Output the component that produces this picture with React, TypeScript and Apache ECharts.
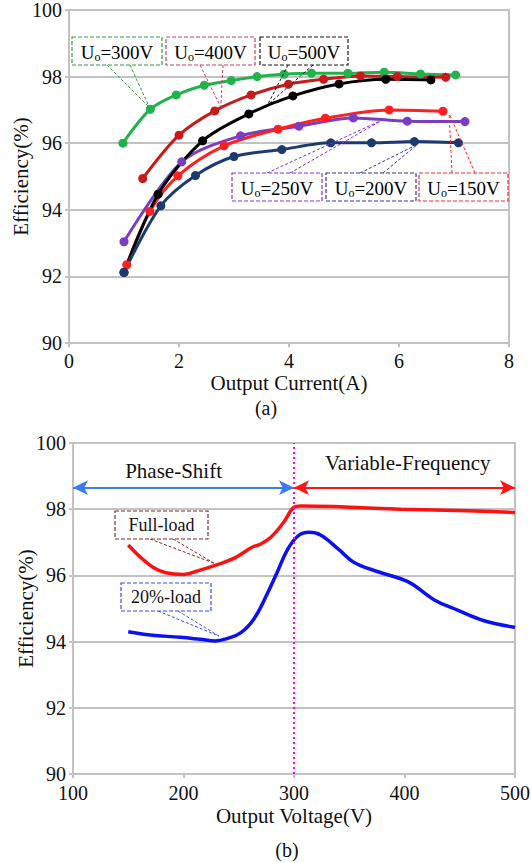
import React, { useEffect, useRef } from "react";
import * as echarts from "echarts";

const SERIF = "Liberation Serif";

// ---- Chart (a): efficiency vs output current ----
const currentTicks = [0, 2, 4, 6, 8];
const uo300 = [[0.98, 96.0], [1.48, 97.02], [1.95, 97.45], [2.46, 97.74], [2.95, 97.88], [3.42, 98.0], [3.91, 98.07], [4.41, 98.1], [5.07, 98.1], [5.73, 98.13], [6.39, 98.08], [7.03, 98.05]];
const uo400 = [[1.34, 94.94], [2.0, 96.24], [2.65, 96.97], [3.31, 97.45], [3.99, 97.77], [4.63, 97.92], [5.3, 98.02], [5.97, 98.0], [6.85, 97.98]];
const uo500 = [[1.0, 92.12], [1.62, 94.47], [2.43, 96.07], [3.27, 96.88], [4.07, 97.42], [4.91, 97.78], [5.76, 97.92], [6.58, 97.9]];
const uo250 = [[1.0, 93.04], [2.05, 95.44], [3.12, 96.22], [4.18, 96.51], [5.17, 96.76], [6.15, 96.66], [7.2, 96.65]];
const uo150 = [[1.05, 92.35], [1.47, 93.95], [1.98, 95.02], [2.82, 95.92], [3.8, 96.42], [4.66, 96.75], [5.82, 97.0], [6.8, 96.96]];
const uo200 = [[1.0, 92.12], [1.67, 94.12], [2.3, 95.03], [3.0, 95.6], [3.87, 95.81], [4.76, 96.01], [5.5, 96.01], [6.28, 96.05], [7.08, 96.01]];

// ---- Chart (b): efficiency vs output voltage ----
const fullLoad = [[150, 96.92], [161, 96.55], [173, 96.23], [184, 96.08], [200, 96.03], [215, 96.16], [230, 96.32], [246, 96.52], [262, 96.85], [270, 96.95], [279, 97.15], [291, 97.62], [300, 98.06], [306, 98.1], [336, 98.08], [397, 98.0], [457, 97.95], [500, 97.9]];
const load20 = [[150, 94.3], [170, 94.2], [197, 94.13], [215, 94.07], [229, 94.02], [240, 94.1], [252, 94.27], [264, 94.7], [276, 95.46], [285, 96.11], [294, 96.77], [303.6, 97.19], [313.6, 97.3], [324, 97.22], [341, 96.77], [354, 96.4], [376, 96.11], [403, 95.81], [427, 95.26], [448, 94.95], [472, 94.63], [500, 94.43]];
const modeBoundary = 300;
const arrowLevel = 98.65;

// annotations: label, colour, box (layout px), leader target (data coords)
const topNotes = [
  { v: "300V", color: "#2e9e3e", box: [72, 37, 90, 28], from: [107, 130], to: [1.46, 97.08] },
  { v: "400V", color: "#c8405c", box: [166, 37, 89, 28], from: [200, 223], to: [2.76, 97.08] },
  { v: "500V", color: "#1a1a1a", box: [260, 37, 88, 28], from: [288, 313], to: [3.61, 97.15] },
  { v: "250V", color: "#8a2be2", box: [232, 173, 90, 28], from: [267, 290], to: [5.7, 96.7] },
  { v: "200V", color: "#3030a8", box: [326, 173, 90, 28], from: [360, 383], to: [6.34, 95.97] },
  { v: "150V", color: "#ff2a2a", box: [419, 173, 89, 28], from: [452, 475], to: [6.91, 96.9] },
];
const bottomNotes = [
  { t: "Full-load", color: "#8b2525", box: [115, 511, 93, 28], from: [150, 173], to: [227.5, 96.37] },
  { t: "20%-load", color: "#2f4fff", box: [121, 583, 90, 28], from: [158, 178], to: [232, 94.17] },
];

const GRID_GRAY = "#c2c2c2";

function axisY(gridIndex: number, gap: number) {
  return {
    type: "value",
    gridIndex,
    min: 90,
    max: 100,
    interval: 2,
    name: "Efficiency(%)",
    nameLocation: "middle",
    nameGap: gap,
    nameMoveOverlap: false,
    nameTextStyle: { fontFamily: SERIF, fontSize: 21, color: "#111" },
    axisLine: { show: true, lineStyle: { color: GRID_GRAY, width: 2 } },
    axisTick: { show: true, length: 4, lineStyle: { color: GRID_GRAY, width: 2 } },
    axisLabel: { fontFamily: SERIF, fontSize: 20, color: "#111", margin: 7 },
    splitLine: { show: true, lineStyle: { color: GRID_GRAY, width: 2 } },
  };
}

function pointSeries(data: number[][], color: string) {
  return {
    type: "line",
    xAxisIndex: 0,
    yAxisIndex: 0,
    data,
    smooth: 0.3,
    symbol: "circle",
    symbolSize: 9,
    lineStyle: { color, width: 3 },
    itemStyle: { color },
    z: 3,
  };
}

export default function App() {
  const ref = useRef<HTMLDivElement>(null);

  useEffect(() => {
    document.body.style.margin = "0";
    const chart = echarts.init(ref.current!, null, { renderer: "svg" });
    const option: any = {
      animation: false,
      backgroundColor: "#ffffff",
      textStyle: { fontFamily: SERIF },
      grid: [
        { left: 69, top: 10, width: 440, height: 333, show: true, borderColor: GRID_GRAY, borderWidth: 2, containLabel: false, outerBoundsMode: "none" },
        { left: 73, top: 443, width: 442, height: 331, show: true, borderColor: GRID_GRAY, borderWidth: 2, containLabel: false, outerBoundsMode: "none" },
      ],
      xAxis: [
        {
          type: "value",
          gridIndex: 0,
          min: currentTicks[0],
          max: currentTicks[currentTicks.length - 1],
          interval: 2,
          name: "Output Current(A)",
          nameLocation: "middle",
          nameGap: 29,
          nameMoveOverlap: false,
          nameTextStyle: { fontFamily: SERIF, fontSize: 21, color: "#111" },
          axisLine: { show: true, lineStyle: { color: GRID_GRAY, width: 2 } },
          axisTick: { show: true, length: 4, lineStyle: { color: GRID_GRAY, width: 2 } },
          axisLabel: { fontFamily: SERIF, fontSize: 20, color: "#111", margin: 8 },
          splitLine: { show: false },
        },
        {
          type: "value",
          gridIndex: 1,
          min: 100,
          max: 500,
          interval: 100,
          name: "Output Voltage(V)",
          nameLocation: "middle",
          nameGap: 31,
          nameMoveOverlap: false,
          nameTextStyle: { fontFamily: SERIF, fontSize: 21, color: "#111" },
          axisLine: { show: true, lineStyle: { color: GRID_GRAY, width: 2 } },
          axisTick: { show: true, length: 4, lineStyle: { color: GRID_GRAY, width: 2 } },
          axisLabel: { fontFamily: SERIF, fontSize: 20, color: "#111", margin: 9 },
          splitLine: { show: false },
        },
      ],
      yAxis: [axisY(0, 38), axisY(1, 37)],
      series: [
        pointSeries(uo300, "#21b14d"),
        pointSeries(uo400, "#c81a1a"),
        pointSeries(uo250, "#7a3cc0"),
        pointSeries(uo150, "#ff1f1f"),
        pointSeries(uo500, "#000000"),
        pointSeries(uo200, "#1d3a70"),
        {
          type: "line",
          xAxisIndex: 1,
          yAxisIndex: 1,
          data: fullLoad,
          smooth: 0.4,
          showSymbol: false,
          lineStyle: { color: "#ff1010", width: 3.5 },
          z: 3,
        },
        {
          type: "line",
          xAxisIndex: 1,
          yAxisIndex: 1,
          data: load20,
          smooth: 0.4,
          showSymbol: false,
          lineStyle: { color: "#0a10f0", width: 3.5 },
          z: 3,
        },
        {
          type: "line",
          xAxisIndex: 1,
          yAxisIndex: 1,
          data: [],
          markLine: {
            silent: true,
            animation: false,
            label: { show: false },
            symbol: ["none", "none"],
            data: [
              { xAxis: modeBoundary, lineStyle: { color: "#ff00ff", type: [2, 3], width: 2 } },
              [
                { coord: [100, arrowLevel], symbol: "arrow", symbolSize: [11, 15], lineStyle: { color: "#3a7af2", width: 2, type: "solid" } },
                { coord: [modeBoundary, arrowLevel], symbol: "arrow", symbolSize: [11, 15] },
              ],
              [
                { coord: [modeBoundary, arrowLevel], symbol: "arrow", symbolSize: [11, 15], lineStyle: { color: "#ff1414", width: 2, type: "solid" } },
                { coord: [500, arrowLevel], symbol: "arrow", symbolSize: [11, 15] },
              ],
            ],
          },
          z: 4,
        },
      ],
    };
    chart.setOption(option);

    const toPx = (g: number, p: number[]) => chart.convertToPixel({ xAxisIndex: g, yAxisIndex: g } as any, p) as number[];
    const graphics: any[] = [];
    const rich = {
      u: { fontFamily: SERIF, fontSize: 19, color: "#111", lineHeight: 22 },
      s: { fontFamily: SERIF, fontSize: 12, color: "#111", lineHeight: 10, verticalAlign: "bottom" },
    };
    topNotes.forEach((n) => {
      const [bx, by, bw, bh] = n.box;
      const tp = toPx(0, n.to);
      n.from.forEach((fx) => {
        graphics.push({ type: "line", z: 10, shape: { x1: fx, y1: n.box[1] < 100 ? by + bh : by, x2: tp[0], y2: tp[1] }, style: { stroke: n.color, lineWidth: 1, lineDash: [3, 2] } });
      });
      graphics.push({ type: "rect", z: 11, shape: { x: bx, y: by, width: bw, height: bh }, style: { fill: "#ffffff", stroke: n.color, lineWidth: 1.2, lineDash: [4, 2] } });
      graphics.push({ type: "text", z: 12, x: bx + bw / 2, y: by + bh / 2 + 1, style: { text: `{u|U}{s|o}{u|=${n.v}}`, rich, align: "center", verticalAlign: "middle" } });
    });
    bottomNotes.forEach((n) => {
      const [bx, by, bw, bh] = n.box;
      const tp = toPx(1, n.to);
      n.from.forEach((fx) => {
        graphics.push({ type: "line", z: 10, shape: { x1: fx, y1: by + bh, x2: tp[0], y2: tp[1] }, style: { stroke: n.color, lineWidth: 1, lineDash: [3, 2] } });
      });
      graphics.push({ type: "rect", z: 11, shape: { x: bx, y: by, width: bw, height: bh }, style: { fill: "#ffffff", stroke: n.color, lineWidth: 1.2, lineDash: [4, 2] } });
      graphics.push({ type: "text", z: 12, x: bx + bw / 2, y: by + bh / 2, style: { text: n.t, fontFamily: SERIF, fontSize: 18, fill: "#111", align: "center", verticalAlign: "middle" } });
    });
    const ps = toPx(1, [191, 99.15]);
    const vf = toPx(1, [403, 99.4]);
    graphics.push({ type: "text", z: 12, x: ps[0], y: ps[1], style: { text: "Phase-Shift", fontFamily: SERIF, fontSize: 21, fill: "#111", align: "center", verticalAlign: "middle" } });
    graphics.push({ type: "text", z: 12, x: vf[0], y: vf[1], style: { text: "Variable-Frequency", fontFamily: SERIF, fontSize: 21, fill: "#111", align: "center", verticalAlign: "middle" } });
    graphics.push({ type: "text", z: 12, x: 266, y: 408, style: { text: "(a)", fontFamily: SERIF, fontSize: 20, fill: "#111", align: "center", verticalAlign: "middle" } });
    graphics.push({ type: "text", z: 12, x: 287, y: 850, style: { text: "(b)", fontFamily: SERIF, fontSize: 20, fill: "#111", align: "center", verticalAlign: "middle" } });
    chart.setOption({ graphic: graphics });

    return () => chart.dispose();
  }, []);

  return <div ref={ref} style={{ width: 531, height: 863 }} />;
}
